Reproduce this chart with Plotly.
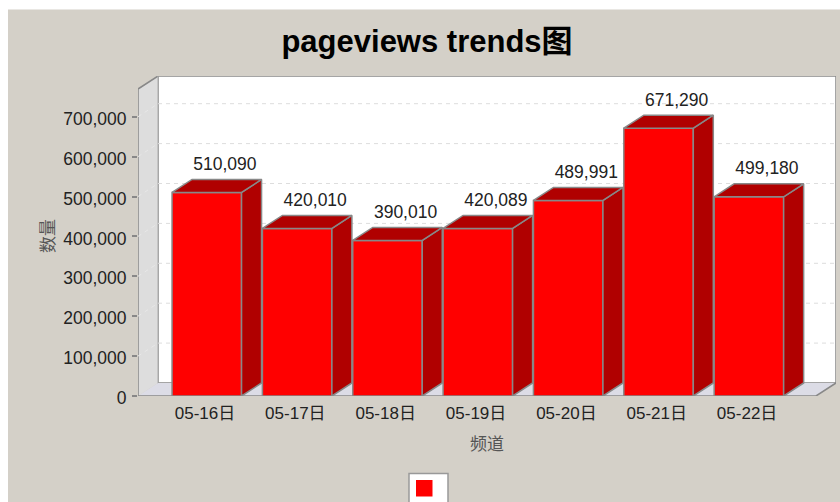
import plotly.graph_objects as go

dates = ["05-16日", "05-17日", "05-18日", "05-19日", "05-20日", "05-21日", "05-22日"]
values = [510090, 420010, 390010, 420089, 489991, 671290, 499180]
y_ticks = [0, 100000, 200000, 300000, 400000, 500000, 600000, 700000]

W, H = 840, 502
L, R, T, B = 138, 836, 76, 396     # plot area in pixels
px_per_cat = 90.35
px_per_val = 39.9 / 100000
first_center = 206.8
x_lo = (L - first_center) / px_per_cat
x_hi = (R - first_center) / px_per_cat
y_hi = (B - T) / px_per_val
dx = 20 / px_per_cat                   # 3D depth in data units
dy = 13 / px_per_val
bw = 69.5 / px_per_cat
EDGE = "#888888"
FONT = "Liberation Sans"
CJK = "Noto Sans CJK SC"

def fx(p): return (p - L) / (R - L)
def fy(p): return (B - p) / (B - T)

front_right = x_hi - dx
shapes = [
    dict(type="rect", xref="paper", yref="paper", x0=fx(8), x1=fx(W + 10), y0=fy(9.5), y1=fy(H + 10),
         fillcolor="#D4D0C8", line_width=0, layer="below"),
    # back wall
    dict(type="rect", x0=x_lo + dx, x1=x_hi, y0=dy, y1=y_hi, fillcolor="white",
         line=dict(color=EDGE, width=1.5), layer="below"),
    # left wall
    dict(type="path", path=f"M{x_lo},0 L{x_lo},{y_hi-dy} L{x_lo+dx},{y_hi} L{x_lo+dx},{dy} Z",
         fillcolor="#DDDDDD", line_width=0, layer="below"),
    dict(type="path", path=f"M{x_lo},0 L{x_lo},{y_hi-dy} L{x_lo+dx},{y_hi}",
         line=dict(color=EDGE, width=1.5), layer="below"),
    dict(type="line", x0=x_lo + dx, x1=x_lo + dx, y0=dy, y1=y_hi,
         line=dict(color="#AAAAAA", width=1), layer="below"),
    # floor
    dict(type="path", path=f"M{x_lo},0 L{front_right},0 L{x_hi},{dy} L{x_lo+dx},{dy} Z",
         fillcolor="#DCDCE6", line_width=0, layer="below"),
    dict(type="path", path=f"M{x_lo},0 L{front_right},0 L{x_hi},{dy}",
         line=dict(color=EDGE, width=1.5), layer="below"),
    # legend box, cut by the page edge
    dict(type="rect", xref="paper", yref="paper", x0=fx(409), x1=fx(448), y0=fy(473.5), y1=fy(515),
         fillcolor="white", line=dict(color="#999999", width=1.5)),
    dict(type="rect", xref="paper", yref="paper", x0=fx(416), x1=fx(432.5), y0=fy(480), y1=fy(496.5),
         fillcolor="#FF0000", line_width=0),
]
for t in y_ticks[1:]:
    shapes.append(dict(type="line", x0=x_lo + dx, x1=x_hi, y0=t + dy, y1=t + dy,
                       line=dict(color="#DDDDDD", width=1, dash="4px,4px"), layer="below"))
    shapes.append(dict(type="line", x0=x_lo, x1=x_lo + dx, y0=t, y1=t + dy,
                       line=dict(color="#E8E8E8", width=1, dash="4px,4px"), layer="below"))

xs = list(range(len(dates)))
fig = go.Figure()
fig.add_trace(go.Bar(x=xs, y=values, width=bw, marker=dict(color="#FF0000", line=dict(color=EDGE, width=1.5)),
                     hoverinfo="skip"))
side_x, side_y, top_x, top_y = [], [], [], []
for i, v in zip(xs, values):
    a, b = i - bw / 2, i + bw / 2
    side_x += [b, b, b + dx, b + dx, b, None]
    side_y += [0, v, v + dy, dy, 0, None]
    top_x += [a, b, b + dx, a + dx, a, None]
    top_y += [v, v, v + dy, v + dy, v, None]
for px, py in ((side_x, side_y), (top_x, top_y)):
    fig.add_trace(go.Scatter(x=px, y=py, mode="lines", fill="toself", fillcolor="#B00000",
                             line=dict(color=EDGE, width=1.5), hoverinfo="skip"))
fig.add_trace(go.Scatter(x=[i + 0.2 for i in xs], y=[v + dy + 35000 for v in values], mode="text",
                         text=[f"{v:,}" for v in values], textposition="middle center",
                         textfont=dict(family=FONT, size=17.5, color="#222222"), hoverinfo="skip"))

fig.update_layout(
    width=W, height=H, margin=dict(l=L, r=W - R, t=T, b=H - B, pad=0),
    paper_bgcolor="white", plot_bgcolor="rgba(0,0,0,0)", showlegend=False, shapes=shapes,
    title=dict(text="<b>pageviews trends图</b>", x=427 / W, xanchor="center", y=1 - 41 / H, yanchor="middle",
               font=dict(family=f"{FONT}, {CJK}", size=31, color="#000000")),
    xaxis=dict(range=[x_lo, x_hi], tickmode="array", tickvals=[i - 0.02 for i in xs], ticktext=dates,
               showgrid=False, zeroline=False, showline=False, ticks="", ticklabelstandoff=5,
               tickfont=dict(family=f"{FONT}, {CJK}", size=17, color="#222222"),
               title=dict(text="频道", font=dict(family=CJK, size=17, color="#555555"), standoff=16)),
    yaxis=dict(range=[0, y_hi], tickmode="array", tickvals=y_ticks, tickformat=",", showgrid=False, zeroline=False,
               showline=False, ticks="outside", ticklen=5, tickwidth=1.5, tickcolor=EDGE, ticklabelstandoff=2,
               ticklabelshift=2,
               tickfont=dict(family=FONT, size=17.5, color="#222222"),
               title=dict(text="数量", font=dict(family=CJK, size=17, color="#555555"), standoff=4)),
)
fig.write_html("out.html", config={"displayModeBar": False},
               post_script="document.body.style.margin='0';document.body.style.overflow='hidden';")
